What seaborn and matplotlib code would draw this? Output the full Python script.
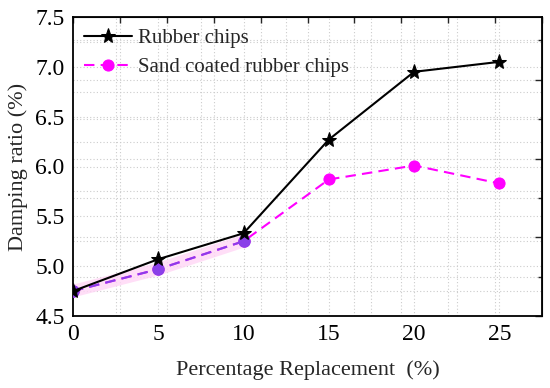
import numpy as np
import pandas as pd
import matplotlib
matplotlib.use("Agg")
import matplotlib.pyplot as plt
import seaborn as sns
from matplotlib.ticker import MultipleLocator

replacement = [0, 5, 10, 15, 20, 25]
rubber_chips = [4.75, 5.07, 5.33, 6.27, 6.95, 7.05]
sand_coated = [4.75, 4.97, 5.25, 5.87, 6.01, 5.83]
series_names = ["Rubber chips", "Sand coated rubber chips"]

df = pd.DataFrame({
    "x": replacement * 2,
    "y": rubber_chips + sand_coated,
    "series": [series_names[0]] * 6 + [series_names[1]] * 6,
})

sns.set_style("white")
plt.rcParams["font.family"] = ["Liberation Serif", "DejaVu Serif"]

fig = plt.figure(figsize=(5.5, 3.88), dpi=100)
ax = fig.add_axes([73 / 550, 1 - 316 / 388, (542 - 73) / 550, (316 - 17) / 388])

# dense dotted grid
grid_kw = dict(color="#cccccc", lw=0.8, ls=(0, (1, 2)), zorder=0)
for gx in np.arange(2.5, 27.5, 2.5):
    ax.axvline(gx, **grid_kw)
for gx in np.arange(2.75, 27.5, 2.75):
    ax.axvline(gx, **grid_kw)
for gy in np.arange(4.75, 7.5, 0.25):
    ax.axhline(gy, **grid_kw)
for gy in np.arange(4.5 + 0.395, 7.5, 0.395):
    ax.axhline(gy, **grid_kw)

# faint highlight artefact
sub = df[df.series == series_names[1]].iloc[:3]
ax.plot(sub.x, sub.y, color="#ffd6f5", lw=9, alpha=0.8, zorder=1,
        solid_capstyle="butt")

sns.lineplot(data=df[df.series == series_names[0]], x="x", y="y", ax=ax,
             color="black", lw=1.5, marker="*", markersize=11,
             markeredgecolor="black", label=series_names[0], zorder=4)
sns.lineplot(data=df[df.series == series_names[1]], x="x", y="y", ax=ax,
             color="#ff00ff", lw=1.5, ls=(0, (5, 3)), marker="o", markersize=8,
             markeredgecolor="#ff00ff", label=series_names[1], zorder=3)
ax.plot(sub.x, sub.y, color="#8a3fe8", lw=1.5, ls=(0, (5, 3)), marker="o",
        markersize=8, markeredgecolor="#8a3fe8", zorder=3.5)

ax.set_xlim(0, 27.5)
ax.set_ylim(4.5, 7.5)
ax.xaxis.set_major_locator(MultipleLocator(5))
ax.xaxis.set_minor_locator(MultipleLocator(2.5))
ax.yaxis.set_major_locator(MultipleLocator(0.5))
ax.yaxis.set_minor_locator(MultipleLocator(0.25))
ax.yaxis.set_major_formatter(matplotlib.ticker.FormatStrFormatter("%.1f"))
ax.tick_params(which="major", direction="in", length=5, width=1.2,
               labelsize=17, pad=6, colors="black")
ax.tick_params(which="minor", direction="in", length=3, width=1.0)
for s in ax.spines.values():
    s.set_color("black")
    s.set_linewidth(1.3)

# top and right auxiliary ticks
top = ax.secondary_xaxis("top")
top.set_xticks(np.arange(0, 27.6, 2.75))
top.tick_params(direction="in", length=4, width=1.0, labeltop=False)
top.set_xticklabels([])
right = ax.secondary_yaxis("right")
right.set_yticks(np.arange(4.5, 7.5, 0.79))
right.set_yticks(np.arange(4.5 + 0.395, 7.5, 0.79), minor=True)
right.tick_params(which="major", direction="in", length=5, width=1.0)
right.tick_params(which="minor", direction="in", length=3, width=1.0)
right.set_yticklabels([])

ax.set_xlabel("Percentage Replacement  (%)", fontsize=16, labelpad=11)
ax.set_ylabel("Damping ratio (%)", fontsize=16, labelpad=5)

leg = ax.legend(loc="upper left", frameon=False, fontsize=15,
                handlelength=2.3, handletextpad=0.25, borderaxespad=0.2,
                borderpad=0.35, labelspacing=0.45)

fig.savefig("out.png", dpi=100)
